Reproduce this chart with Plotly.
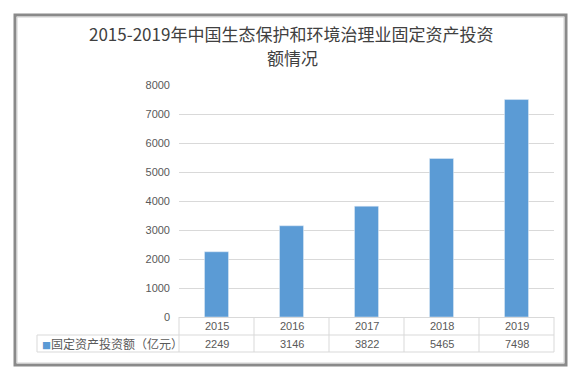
import plotly.graph_objects as go

years = ["2015", "2016", "2017", "2018", "2019"]
values = [2249, 3146, 3822, 5465, 7498]
series_name = "固定资产投资额（亿元）"
title_line1 = "2015-2019年中国生态保护和环境治理业固定资产投资"
title_line2 = "额情况"
y_ticks = [0, 1000, 2000, 3000, 4000, 5000, 6000, 7000, 8000]

W, H = 582, 381
L, R, T, B = 179, 28, 85, 64
PW, PH = W - L - R, H - T - B

def px_x(p):
    return (p - L) / PW

def px_y(p):
    return (H - B - p) / PH

BAR = "#5B9BD5"
GRID = "#D9D9D9"
TXT = "#595959"
FONT = "Liberation Sans, Noto Sans CJK SC, sans-serif"
CJK = "Noto Sans CJK SC, sans-serif"

fig = go.Figure()
fig.add_trace(go.Bar(x=years, y=values, marker_color=BAR, name=series_name, width=0.32))

shapes = []
# frame with shadow
shapes.append(dict(type="rect", xref="paper", yref="paper", x0=px_x(15), x1=px_x(566), y0=px_y(365), y1=px_y(15),
                   line=dict(color="#8a8a8a", width=3), layer="above"))
shapes.append(dict(type="rect", xref="paper", yref="paper", x0=px_x(17), x1=px_x(564), y0=px_y(363), y1=px_y(17),
                   line=dict(color="#d0d0d0", width=1), layer="above"))
# table lines (column borders at category boundaries; axis range is [-0.5, n-0.5])
n = len(years)
y_row = px_y(335)
y_bot = px_y(352)
for i in range(n + 1):
    xp = i / n
    shapes.append(dict(type="line", xref="paper", yref="paper", x0=xp, x1=xp, y0=0, y1=y_bot,
                       line=dict(color=GRID, width=1)))
shapes.append(dict(type="line", xref="paper", yref="paper", x0=px_x(37), x1=1, y0=y_row, y1=y_row,
                   line=dict(color=GRID, width=1)))
shapes.append(dict(type="line", xref="paper", yref="paper", x0=px_x(37), x1=1, y0=y_bot, y1=y_bot,
                   line=dict(color=GRID, width=1)))
shapes.append(dict(type="line", xref="paper", yref="paper", x0=px_x(37), x1=px_x(37), y0=y_row, y1=y_bot,
                   line=dict(color=GRID, width=1)))

annotations = []
for i, (yr, v) in enumerate(zip(years, values)):
    annotations.append(dict(x=i, y=px_y(326), xref="x", yref="paper", text=yr, showarrow=False,
                            font=dict(family=FONT, size=11, color=TXT), xanchor="center", yanchor="middle"))
    annotations.append(dict(x=i, y=px_y(343.5), xref="x", yref="paper", text=str(v), showarrow=False,
                            font=dict(family=FONT, size=11, color=TXT), xanchor="center", yanchor="middle"))
annotations.append(dict(x=px_x(40), y=px_y(343.5), xref="paper", yref="paper",
                        text="<span style='color:%s;font-size:9px'>■</span>%s" % (BAR, series_name),
                        showarrow=False, font=dict(family=CJK, size=12, color=TXT),
                        xanchor="left", yanchor="middle"))
annotations.append(dict(x=px_x(291), y=px_y(34), xref="paper", yref="paper", text=title_line1,
                        showarrow=False, font=dict(family=CJK, size=17, color="#404040"),
                        xanchor="center", yanchor="middle", borderpad=0))
annotations.append(dict(x=px_x(292), y=px_y(58), xref="paper", yref="paper", text=title_line2,
                        showarrow=False, font=dict(family=CJK, size=17, color="#404040"),
                        xanchor="center", yanchor="middle", borderpad=0))

fig.update_layout(
    width=W, height=H,
    margin=dict(l=L, r=R, t=T, b=B),
    paper_bgcolor="white", plot_bgcolor="white",
    showlegend=False,
    bargap=0.68,
    shapes=shapes,
    annotations=annotations,
    xaxis=dict(type="category", range=[-0.5, n - 0.5], showticklabels=False, showgrid=False,
               zeroline=False, showline=False, ticks=""),
    yaxis=dict(range=[0, 8000], tickvals=y_ticks, showgrid=True, gridcolor=GRID, gridwidth=1,
               zeroline=True, zerolinecolor=GRID, zerolinewidth=1, showline=False,
               tickfont=dict(family=FONT, size=11, color=TXT), ticklabelstandoff=8),
)

fig.write_html("out.html", config={"displayModeBar": False},
               post_script="document.body.style.margin='0';")
